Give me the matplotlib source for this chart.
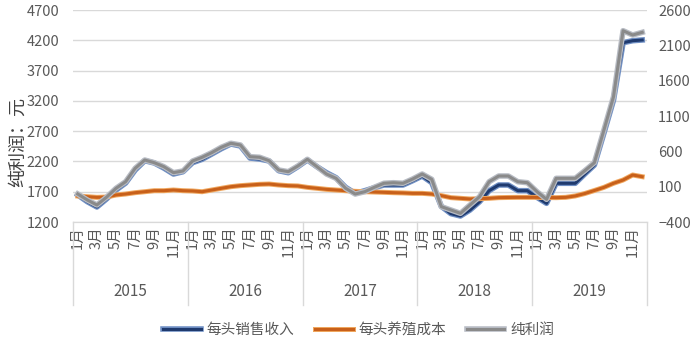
import numpy as np
import matplotlib
matplotlib.use("Agg")
import matplotlib.pyplot as plt
import matplotlib.patheffects as pe
import matplotlib.transforms as mtransforms

plt.rcParams['font.family'] = ['Noto Sans CJK SC', 'DejaVu Sans']

# 数据 (2015.1 - 2019.12, 每月)
years = ['2015', '2016', '2017', '2018', '2019']
month_labels = ['1月', '3月', '5月', '7月', '9月', '11月']

income = [1646, 1535, 1448, 1580, 1728, 1843, 2058, 2212, 2174, 2090, 1992, 2030,
          2180, 2235, 2322, 2410, 2488, 2455, 2256, 2240, 2207, 2047, 2014, 2113,
          2224, 2113, 2014, 1931, 1772, 1673, 1717, 1766, 1811, 1811, 1811, 1882,
          1959, 1849, 1458, 1338, 1299, 1398, 1535, 1717, 1811, 1811, 1717, 1717,
          1607, 1508, 1839, 1839, 1839, 1992, 2140, 2669, 3214, 4160, 4193, 4205]

cost = [1629, 1618, 1607, 1612, 1646, 1662, 1684, 1700, 1717, 1717, 1728, 1717,
        1712, 1700, 1728, 1756, 1783, 1800, 1811, 1822, 1827, 1811, 1800, 1795,
        1772, 1756, 1739, 1728, 1717, 1706, 1700, 1695, 1690, 1684, 1680, 1673,
        1673, 1662, 1635, 1602, 1591, 1580, 1585, 1591, 1602, 1605, 1607, 1607,
        1607, 1604, 1602, 1607, 1630, 1670, 1720, 1772, 1839, 1893, 1976, 1948]

profit = [-4, -89, -159, -50, 77, 170, 360, 477, 439, 383, 298, 322,
          463, 516, 581, 657, 714, 690, 524, 516, 467, 336, 312, 392,
          487, 383, 279, 218, 77, -4, 29, 91, 148, 156, 148, 208,
          279, 204, -183, -230, -277, -159, -42, 170, 251, 251, 170, 156,
          29, -79, 218, 218, 218, 326, 439, 902, 1373, 2307, 2246, 2284]

x = np.arange(len(income))
tick_col = '#595959'
grid_col = '#D9D9D9'

fig = plt.figure(figsize=(6.96, 3.55), dpi=100)
ax = fig.add_axes([73 / 696, 1 - 222 / 355, 574 / 696, 212 / 355])
ax2 = ax.twinx()

# 左轴：收入、成本
l1, = ax.plot(x, income, color='#1F3A6E', lw=2.2, zorder=3,
              path_effects=[pe.Stroke(linewidth=4, foreground='#6F8FC4'), pe.Normal()])
l2, = ax.plot(x, cost, color='#C8601A', lw=2.2, zorder=3,
              path_effects=[pe.Stroke(linewidth=3.6, foreground='#F0A860'), pe.Normal()])
# 右轴：纯利润
l3, = ax2.plot(x, profit, color='#8A8A8A', lw=2.2, zorder=3,
               path_effects=[pe.Stroke(linewidth=4, foreground='#B8BCC4'), pe.Normal()])

ax.set_xlim(-0.5, len(x) - 0.5)
ax.set_ylim(1200, 4700)
ax.set_yticks(np.arange(1200, 4701, 500))
ax2.set_ylim(-400, 2600)
ax2.set_yticks(np.arange(-400, 2601, 500))

ax.yaxis.grid(True, color=grid_col, lw=1)
ax.set_axisbelow(True)
for a in (ax, ax2):
    for s in ['top', 'left', 'right']:
        a.spines[s].set_visible(False)
    a.spines['bottom'].set_color(grid_col)
    a.tick_params(axis='y', length=0, labelsize=10.5, labelcolor=tick_col, pad=10)
ax2.tick_params(axis='y', pad=8)

# x 轴：月份 + 年份
ticks = [i for i in x if i % 2 == 0]
ax.set_xticks(ticks)
ax.set_xticklabels([month_labels[(i % 12) // 2] for i in ticks], rotation=90,
                   fontsize=10.5, color=tick_col)
ax.tick_params(axis='x', length=0, pad=3)

trans = mtransforms.blended_transform_factory(ax.transData, ax.transAxes)
for k in range(len(years) + 1):
    xb = 12 * k - 0.5
    ax.plot([xb, xb], [0, -0.39], color=grid_col, lw=1, transform=trans, clip_on=False)
for k, yr in enumerate(years):
    ax.text(12 * k + 5.5, -0.33, yr, transform=trans, ha='center', va='center',
            fontsize=11, color=tick_col)

fig.text(18 / 696, 1 - 142 / 355, '纯利润：元', rotation=90, ha='center', va='center',
         fontsize=13, color='#404040')

fig.legend([l1, l2, l3], ['每头销售收入', '每头养殖成本', '纯利润'], loc='center',
           bbox_to_anchor=(0.515, 1 - 330 / 355), ncol=3, frameon=False,
           fontsize=10.5, handlelength=2.6, handletextpad=0.4, columnspacing=1.4,
           labelcolor=tick_col)

fig.savefig('out.png', dpi=100)
